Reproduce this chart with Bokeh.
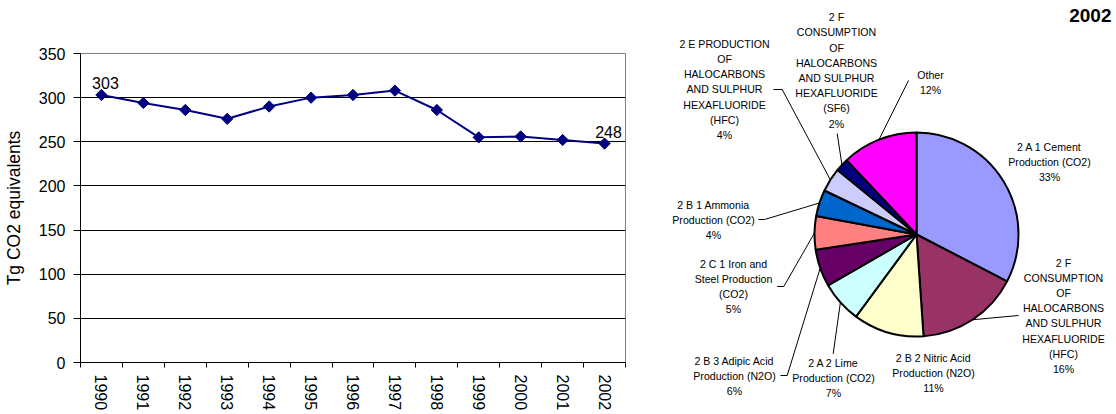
import math
from bokeh.plotting import figure
from bokeh.models import Range1d, FixedTicker
from bokeh.layouts import row
from bokeh.embed import file_html
from bokeh.resources import INLINE
from bokeh.core.properties import value

# ---------------- data ----------------
years = ["1990", "1991", "1992", "1993", "1994", "1995", "1996",
         "1997", "1998", "1999", "2000", "2001", "2002"]
emissions = [303, 294, 286, 276, 290, 300, 303, 308, 286, 255, 256, 252, 248]
labelled_years = ["1990", "2002"]
y_ticks = [0, 50, 100, 150, 200, 250, 300, 350]
y_axis_title = "Tg CO2 equivalents"

pie_year = "2002"
pie_categories = [
    "2 A 1 Cement\nProduction (CO2)",
    "2 F\nCONSUMPTION\nOF\nHALOCARBONS\nAND SULPHUR\nHEXAFLUORIDE\n(HFC)",
    "2 B 2 Nitric Acid\nProduction (N2O)",
    "2 A 2 Lime\nProduction (CO2)",
    "2 B 3 Adipic Acid\nProduction (N2O)",
    "2 C 1 Iron and\nSteel Production\n(CO2)",
    "2 B 1 Ammonia\nProduction (CO2)",
    "2 E PRODUCTION\nOF\nHALOCARBONS\nAND SULPHUR\nHEXAFLUORIDE\n(HFC)",
    "2 F\nCONSUMPTION\nOF\nHALOCARBONS\nAND SULPHUR\nHEXAFLUORIDE\n(SF6)",
    "Other",
]
pie_shares = [32.6, 16.3, 11.2, 6.6, 5.9, 5.3, 4.2, 3.8, 2.1, 12.0]
pie_colors = ["#9999FF", "#993366", "#FFFFCC", "#CCFFFF", "#660066",
              "#FF8080", "#0066CC", "#CCCCFF", "#000080", "#FF00FF"]

FONT = "Liberation Sans"


def no_frame_align(fig):
    if "frame_align" in fig.properties():
        fig.frame_align = False


# ---------------- line chart ----------------
n = len(years)
xc = [i + 0.5 for i in range(n)]

p = figure(width=640, height=414, x_range=Range1d(0, n),
           y_range=Range1d(y_ticks[0], y_ticks[-1]),
           output_backend="svg", toolbar_location=None,
           min_border_left=80, min_border_right=15,
           min_border_top=53, min_border_bottom=52)
no_frame_align(p)
p.outline_line_color = "#808080"
p.outline_line_width = 1

p.line(xc, emissions, line_color="#000080", line_width=2)
p.scatter(xc, emissions, marker="square", size=8, angle=math.pi / 4,
          fill_color="#000080", line_color="#000080", line_width=1)

lab_x = [xc[years.index(y)] for y in labelled_years]
lab_v = [emissions[years.index(y)] for y in labelled_years]
p.text(x=lab_x, y=lab_v, text=[str(v) for v in lab_v], x_offset=4, y_offset=-12,
       text_align="center", text_baseline="alphabetic",
       text_font=value(FONT), text_font_size="16px", text_color="black")

xa = p.xaxis[0]
xa.ticker = FixedTicker(ticks=xc, minor_ticks=list(range(n + 1)))
xa.major_label_overrides = {x: y for x, y in zip(xc, years)}
xa.major_label_orientation = "vertical"
xa.major_tick_line_color = None
xa.major_tick_out = 5
xa.major_tick_in = 0
xa.minor_tick_out = 5
xa.minor_tick_in = 0
xa.minor_tick_line_color = "black"
xa.axis_line_color = "black"
xa.major_label_standoff = 7
xa.major_label_text_font = FONT
xa.major_label_text_font_size = "16px"
xa.major_label_text_color = "black"

ya = p.yaxis[0]
ya.ticker = FixedTicker(ticks=y_ticks)
ya.minor_tick_line_color = None
ya.major_tick_out = 7
ya.major_tick_in = 0
ya.major_tick_line_color = "black"
ya.axis_line_color = "black"
ya.major_label_standoff = 8
ya.major_label_text_font = FONT
ya.major_label_text_font_size = "16px"
ya.major_label_text_color = "black"
ya.axis_label = y_axis_title
ya.axis_label_text_font = FONT
ya.axis_label_text_font_size = "17.5px"
ya.axis_label_text_font_style = "normal"
ya.axis_label_text_color = "black"
ya.axis_label_standoff = 12

p.xgrid.visible = False
p.ygrid.ticker = FixedTicker(ticks=y_ticks[1:-1])
p.ygrid.grid_line_color = "black"
p.ygrid.grid_line_width = 1

# ---------------- pie chart ----------------
PCX, PCY = 916, 234          # page position of the pie centre
R = 102
FIG_X0, FIG_Y0, QW, QH = 640, 0, 476, 414


def d(px, py):
    return px - PCX, PCY - py


q = figure(frame_width=QW, frame_height=QH,
           x_range=Range1d(FIG_X0 - PCX, FIG_X0 + QW - PCX),
           y_range=Range1d(PCY - (FIG_Y0 + QH), PCY - FIG_Y0),
           output_backend="svg", toolbar_location=None, min_border=0,
           x_axis_location=None, y_axis_location=None)
no_frame_align(q)
q.grid.visible = False
q.outline_line_color = None

total = sum(pie_shares)
cum = [0.0]
for s in pie_shares:
    cum.append(cum[-1] + s)
starts = [math.pi / 2 - 2 * math.pi * cum[i + 1] / total for i in range(len(pie_shares))]
ends = [math.pi / 2 - 2 * math.pi * cum[i] / total for i in range(len(pie_shares))]
mids = [(a + b) / 2 for a, b in zip(starts, ends)]

q.wedge(x=0, y=0, radius=R, start_angle=starts, end_angle=ends,
        fill_color=pie_colors, line_color="black", line_width=2)

# label layout: page position of the first line centre
label_pos = [(1049, 146), (1063, 262), (933, 357), (833, 362), (734, 360),
             (733, 263), (713, 204), (724, 43.3), (836, 16.7), (930, 74)]
LINE_STEP = 15.2
# leader line points on the label side (page coords)
leaders = [None, [(1018, 315)], None, [(832.7, 353.3)], [(780, 375), (786.7, 375)],
           [(776.7, 286), (783.3, 286)], [(758, 219), (764, 219)],
           [(773, 89), (781.7, 89)], [(836.7, 133)], [(908, 80)]]

tx, ty, tt = [], [], []
for name, share, (px, py) in zip(pie_categories, pie_shares, label_pos):
    lines = name.split("\n") + [f"{int(share / total * 100 + 0.5)}%"]
    for k, ln in enumerate(lines):
        x, y = d(px, py + k * LINE_STEP)
        tx.append(x)
        ty.append(y)
        tt.append(ln)
q.text(x=tx, y=ty, text=tt, text_align="center", text_baseline="middle",
       text_font=value(FONT), text_font_size="10.6px", text_color="black")

lx, ly = [], []
for pts, m in zip(leaders, mids):
    if pts is None:
        continue
    xs = [d(a, b)[0] for a, b in pts] + [R * math.cos(m)]
    ys = [d(a, b)[1] for a, b in pts] + [R * math.sin(m)]
    lx.append(xs)
    ly.append(ys)
q.multi_line(xs=lx, ys=ly, line_color="black", line_width=1)

tx2, ty2 = d(1111, 14.5)
q.text(x=[tx2], y=[ty2], text=[pie_year], text_align="right", text_baseline="middle",
       text_font=value(FONT), text_font_size="19px", text_font_style="bold",
       text_color="black")

layout = row(p, q)
open("out.html", "w").write(file_html(layout, INLINE))
